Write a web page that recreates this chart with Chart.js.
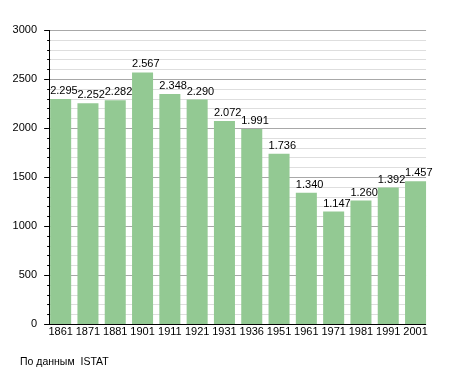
<!DOCTYPE html>
<html>
<head>
<meta charset="utf-8">
<script src="https://cdn.jsdelivr.net/npm/chart.js@4.4.1/dist/chart.umd.min.js"></script>
<style>
  html, body { margin: 0; padding: 0; background: #fff; }
  #wrap { position: relative; width: 455px; height: 373px; }
  #footer {
    position: absolute; left: 20px; top: 355px;
    font: 10.5px "Liberation Sans", Arial, sans-serif; color: #000;
    white-space: pre;
  }
</style>
</head>
<body>
<div id="wrap">
  <canvas id="popChart" width="455" height="373"></canvas>
  <div id="footer">По данным  ISTAT</div>
</div>
<script>
// --- data ---
const years = ['1861', '1871', '1881', '1901', '1911', '1921', '1931', '1936', '1951', '1961', '1971', '1981', '1991', '2001'];
const population = [2295, 2252, 2282, 2567, 2348, 2290, 2072, 1991, 1736, 1340, 1147, 1260, 1392, 1457];
const yTickLabels = [0, 500, 1000, 1500, 2000, 2500, 3000];

const barColor = '#93c993';
const fontFamily = '"Liberation Sans", Arial, sans-serif';

function formatThousands(n) {
    return String(n).replace(/\B(?=(\d{3})+(?!\d))/g, '.');
}

// grid, axis lines and tick marks, drawn between first and last bar edges
const gridPlugin = {
    id: 'gridPlugin',
    beforeDatasetsDraw(chart) {
        const ctx = chart.ctx;
        const y = chart.scales.y;
        const bars = chart.getDatasetMeta(0).data;
        const x0 = bars[0].x - bars[0].width / 2;
        const last = bars[bars.length - 1];
        const x1 = last.x + last.width / 2;
        ctx.save();
        for (let v = 0; v <= 3000; v += 100) {
            const py = Math.round(y.getPixelForValue(v)) + 0.5;
            const major = v % 500 === 0;
            ctx.strokeStyle = major ? '#a8a8a8' : '#dedede';
            ctx.lineWidth = 1;
            ctx.beginPath();
            ctx.moveTo(x0, py);
            ctx.lineTo(x1, py);
            ctx.stroke();
            // tick marks left of axis
            ctx.strokeStyle = '#000';
            ctx.beginPath();
            ctx.moveTo(x0 - (major ? 6 : 3), py);
            ctx.lineTo(x0, py);
            ctx.stroke();
        }
        ctx.restore();
    },
    afterDatasetsDraw(chart) {
        const ctx = chart.ctx;
        const y = chart.scales.y;
        const bars = chart.getDatasetMeta(0).data;
        const x0 = Math.round(bars[0].x - bars[0].width / 2) - 0.5;
        const last = bars[bars.length - 1];
        const x1 = last.x + last.width / 2;
        const yTop = y.getPixelForValue(3000);
        const yBot = Math.round(y.getPixelForValue(0)) + 0.5;
        ctx.save();
        ctx.strokeStyle = '#000';
        ctx.lineWidth = 1;
        ctx.beginPath();
        ctx.moveTo(x0, yTop);
        ctx.lineTo(x0, yBot);
        ctx.lineTo(x1, yBot);
        ctx.stroke();

        // value labels above bars
        ctx.fillStyle = '#000';
        ctx.font = '11px ' + fontFamily;
        ctx.textAlign = 'left';
        ctx.textBaseline = 'alphabetic';
        bars.forEach((bar, i) => {
            ctx.fillText(formatThousands(population[i]), bar.x - bar.width / 2, bar.y - 5);
        });
        ctx.restore();
    }
};

new Chart(document.getElementById('popChart'), {
    type: 'bar',
    data: {
        labels: years,
        datasets: [{
            data: population,
            backgroundColor: barColor,
            borderWidth: 0,
            barPercentage: 0.77,
            categoryPercentage: 1.0
        }]
    },
    options: {
        responsive: false,
        animation: false,
        layout: { padding: { top: 30, right: 25.8, bottom: 27, left: 0 } },
        plugins: {
            legend: { display: false },
            tooltip: { enabled: false }
        },
        scales: {
            x: {
                grid: { display: false, drawTicks: false },
                border: { display: false },
                ticks: {
                    color: '#000',
                    font: { family: fontFamily, size: 11 },
                    padding: 1,
                    maxRotation: 0,
                    autoSkip: false
                },
                afterFit(scale) { scale.height = 22; }
            },
            y: {
                min: 0,
                max: 3000,
                afterBuildTicks(scale) {
                    scale.ticks = yTickLabels.map(v => ({ value: v }));
                },
                grid: { display: false, drawTicks: false },
                border: { display: false },
                ticks: {
                    color: '#000',
                    font: { family: fontFamily, size: 11 },
                    padding: 10,
                    callback: (v) => String(v)
                },
                afterFit(scale) { scale.width = 47; }
            }
        }
    },
    plugins: [gridPlugin]
});
</script>
</body>
</html>
